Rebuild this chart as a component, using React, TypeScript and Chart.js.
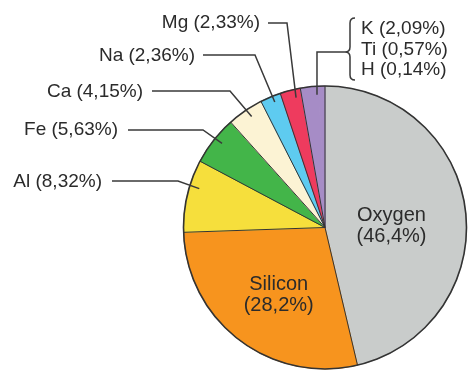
import React, { useEffect, useRef } from "react";
import { Chart, registerables } from "chart.js";
Chart.register(...registerables);

const elements = ["Oxygen", "Silicon", "Al", "Fe", "Ca", "Na", "Mg", "K", "Ti", "H"];
const percents = [46.4, 28.2, 8.32, 5.63, 4.15, 2.36, 2.33, 2.09, 0.57, 0.14];
const colors = ["#c9cccb", "#f7941e", "#f6df3c", "#43b549", "#fcf3d4", "#5ecbf0", "#ee3b5e", "#a68cc6", "#a68cc6", "#a68cc6"];

const fmt = (v: number) => String(v).replace(".", ",") + "%";
const TEXT = "#2b2b2b";
const LINE = "#3a3a3a";
const FONT = '"Liberation Sans", Arial, sans-serif';

// layout of annotation labels (positions only)
const innerLabels = [
  { i: 0, t: 0.537, k: 0.47 },
  { i: 1, t: 0.47, k: 0.58 },
];
const outerLabels = [
  { i: 2, textX: 102, textY: 182, lineY: 181, lineStart: 112, elbowX: 178, t: 0.64, k: 0.93 },
  { i: 3, textX: 118, textY: 130, lineY: 130, lineStart: 128, elbowX: 203, t: 0.56, k: 0.94 },
  { i: 4, textX: 143, textY: 92, lineY: 91, lineStart: 152, elbowX: 230, t: 0.56, k: 0.94 },
  { i: 5, textX: 195, textY: 56, lineY: 55, lineStart: 203, elbowX: 255, t: 0.6, k: 0.955 },
  { i: 6, textX: 260, textY: 23, lineY: 23, lineStart: 268, elbowX: 287, t: 0.7, k: 0.94 },
];
const groupLabel = { first: 7, textX: 361, textYs: [29, 50, 70], lineY: 52, braceX: 350, braceTop: 18, braceBottom: 80, t: 0.88, k: 0.94 };

const pointOn = (arc: any, t: number, k: number) => {
  const a = arc.startAngle + (arc.endAngle - arc.startAngle) * t;
  const r = arc.outerRadius * k;
  return { x: arc.x + r * Math.cos(a), y: arc.y + r * Math.sin(a) };
};

const bordersPlugin = {
  id: "borders",
  afterDatasetsDraw(chart: any) {
    const ctx = chart.ctx;
    const arcs = chart.getDatasetMeta(0).data;
    ctx.save();
    ctx.strokeStyle = "#333";
    ctx.lineWidth = 1;
    arcs.forEach((arc: any, i: number) => {
      if (i === 8 || i === 9) return;
      ctx.beginPath();
      ctx.moveTo(arc.x, arc.y);
      ctx.lineTo(arc.x + arc.outerRadius * Math.cos(arc.startAngle), arc.y + arc.outerRadius * Math.sin(arc.startAngle));
      ctx.stroke();
    });
    const a0 = arcs[0];
    ctx.lineWidth = 1.6;
    ctx.beginPath();
    ctx.arc(a0.x, a0.y, a0.outerRadius, 0, Math.PI * 2);
    ctx.stroke();
    ctx.restore();
  },
};

const labelsPlugin = {
  id: "labels",
  afterDraw(chart: any) {
    const ctx = chart.ctx;
    const arcs = chart.getDatasetMeta(0).data;
    ctx.save();
    ctx.fillStyle = TEXT;
    ctx.textBaseline = "middle";
    // inner
    ctx.font = `20px ${FONT}`;
    ctx.textAlign = "center";
    innerLabels.forEach((l) => {
      const p = pointOn(arcs[l.i], l.t, l.k);
      ctx.fillText(elements[l.i], p.x, p.y - 11);
      ctx.fillText("(" + fmt(percents[l.i]) + ")", p.x, p.y + 10);
    });
    // outer
    ctx.font = `19px ${FONT}`;
    ctx.textAlign = "right";
    ctx.strokeStyle = LINE;
    ctx.lineWidth = 1.5;
    outerLabels.forEach((l) => {
      ctx.fillText(`${elements[l.i]} (${fmt(percents[l.i])})`, l.textX, l.textY);
      const p = pointOn(arcs[l.i], l.t, l.k);
      ctx.beginPath();
      ctx.moveTo(l.lineStart, l.lineY);
      ctx.lineTo(l.elbowX, l.lineY);
      ctx.lineTo(p.x, p.y);
      ctx.stroke();
    });
    // group label
    const g = groupLabel;
    ctx.textAlign = "left";
    for (let j = 0; j < 3; j++) {
      const idx = g.first + j;
      ctx.fillText(`${elements[idx]} (${fmt(percents[idx])})`, g.textX, g.textYs[j]);
    }
    const p = pointOn(arcs[g.first], g.t, g.k);
    const xr = g.braceX + 5, xm = g.braceX, xl = g.braceX - 5;
    const top = g.braceTop, bot = g.braceBottom, mid = g.lineY, r = 5;
    ctx.beginPath();
    ctx.moveTo(xr, top);
    ctx.quadraticCurveTo(xm, top, xm, top + r);
    ctx.lineTo(xm, mid - r);
    ctx.quadraticCurveTo(xm, mid, xl, mid);
    ctx.quadraticCurveTo(xm, mid, xm, mid + r);
    ctx.lineTo(xm, bot - r);
    ctx.quadraticCurveTo(xm, bot, xr, bot);
    ctx.stroke();
    ctx.beginPath();
    ctx.moveTo(xl, mid);
    ctx.lineTo(p.x, mid);
    ctx.lineTo(p.x, p.y);
    ctx.stroke();
    ctx.restore();
  },
};

export default function App() {
  const ref = useRef<HTMLCanvasElement | null>(null);
  useEffect(() => {
    if (!ref.current) return;
    const chart = new Chart(ref.current, {
      type: "pie",
      data: {
        labels: elements,
        datasets: [
          {
            data: percents,
            backgroundColor: colors,
            borderColor: colors,
            borderWidth: 1,
          },
        ],
      },
      options: {
        responsive: false,
        animation: false,
        devicePixelRatio: 1,
        layout: { padding: { left: 183, right: 8, top: 85, bottom: 12 } },
        plugins: { legend: { display: false }, tooltip: { enabled: false } },
      },
      plugins: [bordersPlugin, labelsPlugin],
    });
    return () => chart.destroy();
  }, []);
  return (
    <div style={{ position: "absolute", left: 0, top: 0, width: 475, height: 382, background: "#fff" }}>
      <canvas ref={ref} width={475} height={382} />
    </div>
  );
}
